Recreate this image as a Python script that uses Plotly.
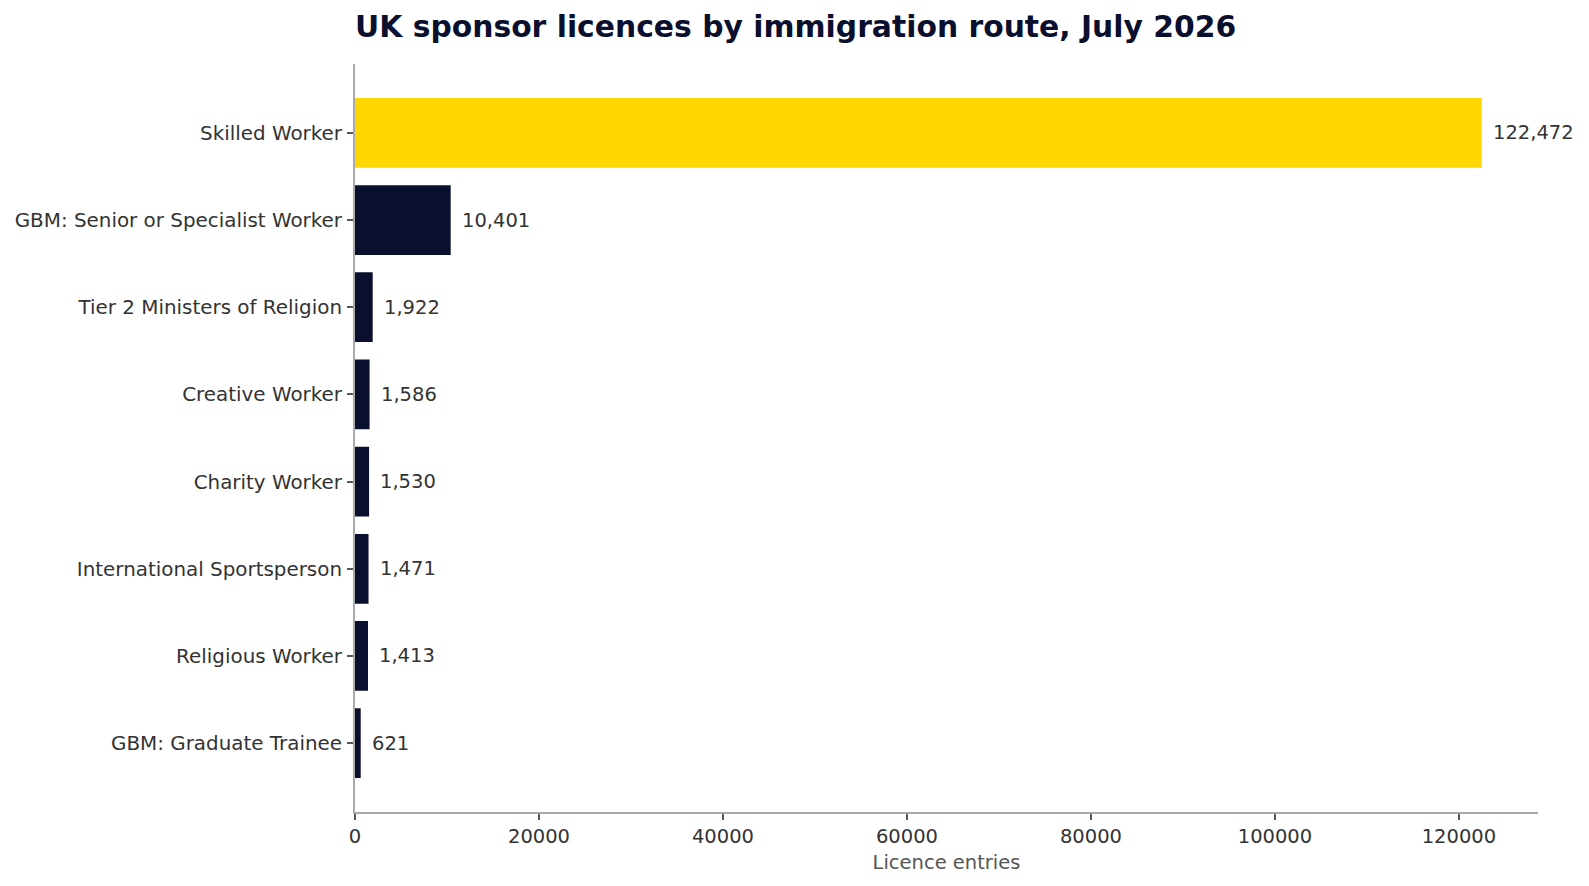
import plotly.graph_objects as go

routes = ["Skilled Worker", "GBM: Senior or Specialist Worker", "Tier 2 Ministers of Religion",
          "Creative Worker", "Charity Worker", "International Sportsperson",
          "Religious Worker", "GBM: Graduate Trainee"]
entries = [122472, 10401, 1922, 1586, 1530, 1471, 1413, 621]
tick_vals = [0, 20000, 40000, 60000, 80000, 100000, 120000]

NAVY = "#0b0f2e"
GOLD = "#ffd700"
colors = [GOLD if i == 0 else NAVY for i in range(len(routes))]
FS = 19.5

fig = go.Figure()
fig.add_trace(go.Bar(
    x=entries, y=list(range(len(routes))), orientation="h",
    marker=dict(color=colors, line=dict(width=0)), width=0.8,
    hoverinfo="skip",
))
for i, v in enumerate(entries):
    fig.add_annotation(x=v, y=i, text=f"{v:,}", showarrow=False, xanchor="left",
                       xshift=9, font=dict(family="DejaVu Sans", size=FS, color="#333333"))

fig.update_layout(
    width=1589, height=886,
    margin=dict(l=355, r=51, t=64, b=74),
    paper_bgcolor="white", plot_bgcolor="white",
    showlegend=False,
    font=dict(family="DejaVu Sans", size=FS, color="#333333"),
    title=dict(text="<b>UK sponsor licences by immigration route, July 2026</b>",
               x=355/1589, xanchor="left", y=1-27/886, yanchor="middle",
               font=dict(family="DejaVu Sans", size=29.8, color=NAVY)),
    xaxis=dict(range=[0, 122472*1.05], tickvals=tick_vals, ticktext=[str(t) for t in tick_vals],
               showgrid=False, zeroline=False, showline=True, linecolor="#aaaaaa", linewidth=2,
               ticks="outside", ticklen=6, tickwidth=2, tickcolor="#555555",
               tickfont=dict(size=FS, color="#333333"),
               title=dict(text="Licence entries", font=dict(size=FS, color="#555555"), standoff=8)),
    yaxis=dict(range=[7.79, -0.79], tickvals=list(range(len(routes))), ticktext=routes,
               showgrid=False, zeroline=False, showline=True, linecolor="#aaaaaa", linewidth=2,
               ticks="outside", ticklen=6, tickwidth=2, tickcolor="#555555",
               ticklabelstandoff=1,
               tickfont=dict(size=19.9, color="#333333")),
)
fig.write_html("out.html")
